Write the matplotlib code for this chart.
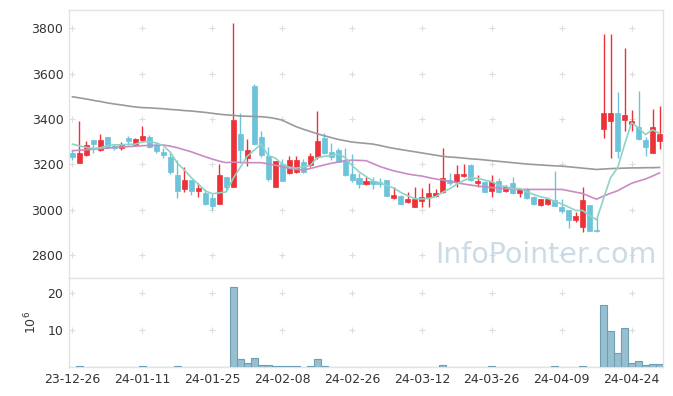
import numpy as np
import matplotlib
matplotlib.use("Agg")
import matplotlib.pyplot as plt

# daily OHLC (KRW), index = trading day
opens = [3250, 3207, 3242, 3307, 3263, 3319, 3280, 3274, 3316, 3285,
         3307, 3319, 3285, 3255, 3233, 3152, 3089, 3130, 3083, 3074,
         3049, 3026, 3142, 3101, 3333, 3229, 3547, 3321, 3236, 3101,
         3200, 3162, 3167, 3212, 3198, 3233, 3317, 3255, 3262, 3216,
         3157, 3140, 3112, 3126, 3120, 3130, 3052, 3061, 3035, 3010,
         3039, 3057, 3061, 3076, 3130, 3127, 3149, 3196, 3116, 3122,
         3082, 3126, 3083, 3116, 3071, 3089, 3057, 3022, 3024, 3042,
         3012, 2998, 2954, 2924, 3020, 2912, 3355, 3390, 3426, 3395,
         3379, 3366, 3307, 3251, 3302]
highs = [3262, 3392, 3304, 3309, 3333, 3320, 3290, 3300, 3325, 3318,
         3369, 3328, 3300, 3270, 3248, 3220, 3190, 3132, 3116, 3090,
         3067, 3200, 3143, 3822, 3427, 3310, 3553, 3348, 3277, 3216,
         3222, 3236, 3236, 3222, 3251, 3435, 3339, 3292, 3270, 3270,
         3244, 3162, 3145, 3145, 3140, 3132, 3100, 3063, 3079, 3098,
         3094, 3118, 3090, 3270, 3160, 3196, 3200, 3200, 3152, 3124,
         3152, 3138, 3108, 3142, 3096, 3094, 3060, 3048, 3048, 3172,
         3045, 3000, 2990, 3101, 3022, 2962, 3773, 3773, 3517, 3712,
         3439, 3523, 3321, 3442, 3457]
lows = [3220, 3205, 3237, 3250, 3260, 3270, 3263, 3263, 3285, 3282,
        3300, 3270, 3250, 3226, 3155, 3050, 3078, 3065, 3057, 3020,
        2998, 3025, 3082, 3100, 3204, 3193, 3285, 3233, 3127, 3099,
        3125, 3156, 3160, 3162, 3189, 3222, 3245, 3219, 3208, 3150,
        3122, 3094, 3110, 3090, 3100, 3058, 3045, 3020, 3027, 3010,
        3012, 3012, 3055, 3074, 3110, 3101, 3145, 3128, 3101, 3077,
        3057, 3074, 3076, 3067, 3057, 3046, 3020, 3018, 3020, 3015,
        2983, 2917, 2946, 2900, 2904, 2902, 3317, 3226, 3229, 3347,
        3347, 3305, 3236, 3250, 3267]
closes = [3233, 3251, 3285, 3289, 3307, 3277, 3272, 3285, 3301, 3310,
          3325, 3277, 3257, 3240, 3167, 3083, 3130, 3083, 3096, 3023,
          3017, 3152, 3101, 3395, 3263, 3263, 3289, 3241, 3135, 3214,
          3127, 3219, 3219, 3167, 3236, 3302, 3251, 3232, 3211, 3152,
          3130, 3112, 3126, 3112, 3112, 3061, 3064, 3025, 3045, 3045,
          3054, 3074, 3074, 3138, 3118, 3157, 3157, 3130, 3126, 3079,
          3123, 3079, 3101, 3072, 3089, 3049, 3024, 3045, 3045, 3017,
          2995, 2954, 2971, 3042, 2906, 2904, 3428, 3426, 3258, 3417,
          3390, 3311, 3277, 3366, 3335]

# moving averages as drawn on the chart
ma5 = [3289, 3281, 3274, 3270, 3273, 3282, 3286, 3286, 3288, 3289,
       3299, 3300, 3294, 3282, 3253, 3205, 3175, 3141, 3112, 3083,
       3070, 3074, 3078, 3138, 3186, 3235, 3262, 3290, 3238, 3228,
       3201, 3187, 3183, 3189, 3194, 3229, 3235, 3238, 3246, 3230,
       3195, 3167, 3146, 3126, 3118, 3105, 3095, 3075, 3061, 3048,
       3047, 3049, 3058, 3077, 3092, 3112, 3129, 3140, 3138, 3130,
       3123, 3107, 3102, 3091, 3093, 3078, 3067, 3056, 3050, 3036,
       3025, 3011, 2996, 2996, 2974, 2955, 3050, 3141, 3184, 3287,
       3384, 3360, 3331, 3352, 3336]
ma20 = [3260, 3262, 3264, 3267, 3269, 3271, 3274, 3276, 3278, 3280,
        3282, 3283, 3284, 3285, 3280, 3273, 3264, 3255, 3244, 3233,
        3223, 3214, 3207, 3210, 3208, 3207, 3207, 3207, 3202, 3196,
        3189, 3182, 3178, 3174, 3181, 3189, 3197, 3204, 3210, 3216,
        3218, 3217, 3216, 3203, 3190, 3180, 3171, 3164, 3157, 3152,
        3148, 3141, 3135, 3130, 3125, 3118, 3113, 3108, 3104, 3100,
        3097, 3095, 3092, 3089, 3089, 3089, 3089, 3089, 3089, 3089,
        3089, 3083, 3077, 3071, 3058, 3046, 3060, 3072, 3083, 3100,
        3116, 3126, 3135, 3148, 3162]
ma60 = [3498, 3493, 3488, 3482, 3477, 3471, 3466, 3462, 3457, 3453,
        3450, 3449, 3447, 3445, 3442, 3440, 3437, 3435, 3432, 3429,
        3425, 3421, 3418, 3416, 3413, 3412, 3411, 3410, 3407, 3402,
        3395, 3380, 3366, 3355, 3345, 3335, 3326, 3318, 3310, 3304,
        3298, 3295, 3292, 3289, 3283, 3276, 3270, 3265, 3260, 3255,
        3250, 3245, 3240, 3235, 3232, 3230, 3227, 3224, 3222, 3219,
        3216, 3213, 3210, 3207, 3204, 3201, 3199, 3197, 3195, 3193,
        3192, 3189, 3186, 3183, 3180, 3177, 3179, 3181, 3182, 3183,
        3184, 3184, 3185, 3185, 3186]

# volume in millions of shares
volume = [0, 0.3, 0, 0, 0, 0, 0, 0, 0, 0,
          0.2, 0, 0, 0, 0, 0.2, 0, 0, 0, 0,
          0, 0, 0, 21.6, 2.1, 1.1, 2.4, 0.5, 0.5, 0.25,
          0.25, 0.25, 0.25, 0, 0.25, 2.1, 0.25, 0, 0, 0,
          0, 0, 0, 0, 0, 0, 0, 0, 0, 0,
          0, 0, 0, 0.5, 0, 0, 0, 0, 0, 0,
          0.2, 0, 0, 0, 0, 0, 0, 0, 0, 0.2,
          0, 0, 0, 0.2, 0, 0, 16.6, 9.7, 3.8, 10.6,
          1.1, 1.7, 0.5, 0.8, 0.8]

tick_labels = ["23-12-26", "24-01-11", "24-01-25", "24-02-08", "24-02-26",
               "24-03-12", "24-03-26", "24-04-09", "24-04-24"]
price_ticks = [2800, 3000, 3200, 3400, 3600, 3800]
vol_ticks = [10, 20]

UP = "#ec3238"
DOWN = "#6cc3da"
FRAME = "#e3e3e3"
TXT = "#333333"

x = np.arange(len(closes))
tick_pos = x[::10]

fig = plt.figure(figsize=(6.73, 3.96), dpi=100)
ax = fig.add_axes([69 / 673, 118 / 396, 594 / 673, 268 / 396])
axv = fig.add_axes([69 / 673, 29 / 396, 594 / 673, 89 / 396], sharex=ax)

# candles
for i in x:
    o, h, l, c = opens[i], highs[i], lows[i], closes[i]
    col = UP if c >= o else DOWN
    ax.vlines(i, l, h, color=col, lw=1, zorder=3)
    ax.bar(i, max(abs(c - o), 3), bottom=min(o, c), width=0.72,
           color=col, edgecolor=col, lw=0.5, zorder=4)

ax.plot(x, ma60, color="#9a9a9a", lw=1.2, zorder=5)
ax.plot(x, ma20, color="#c98bc4", lw=1.2, zorder=5)
ax.plot(x, ma5, color="#8fd3c5", lw=1.2, zorder=5)

ax.text(0.99, 0.085, "InfoPointer.com", transform=ax.transAxes,
        ha="right", va="center", fontsize=20.5, color="#c2d6e3",
        alpha=0.85, zorder=2)

axv.bar(x, volume, width=1.0, color="#98bfd0", edgecolor="#6d9fb4",
        lw=0.8, zorder=3)

ax.set_xlim(-0.5, 84.5)
ax.set_ylim(2698, 3881)
axv.set_ylim(0, 23.9)

# light "+" grid markers
gx, gy = np.meshgrid(tick_pos, price_ticks)
ax.scatter(gx.ravel(), gy.ravel(), marker="+", s=16, color="#dddddd",
           lw=0.8, zorder=1)
gx, gy = np.meshgrid(tick_pos, vol_ticks)
axv.scatter(gx.ravel(), gy.ravel(), marker="+", s=16, color="#dddddd",
            lw=0.8, zorder=1)

ax.set_yticks(price_ticks)
axv.set_yticks(vol_ticks)
axv.set_xticks(tick_pos)
axv.set_xticklabels(tick_labels)
ax.tick_params(axis="x", labelbottom=False, length=0)
for a in (ax, axv):
    a.tick_params(axis="both", length=0, labelsize=9, colors=TXT, pad=4)
    for s in a.spines.values():
        s.set_color(FRAME)
        s.set_linewidth(1)

axv.set_ylabel("$10^6$", fontsize=9, color=TXT, labelpad=6)

fig.savefig("out.png", dpi=100)
